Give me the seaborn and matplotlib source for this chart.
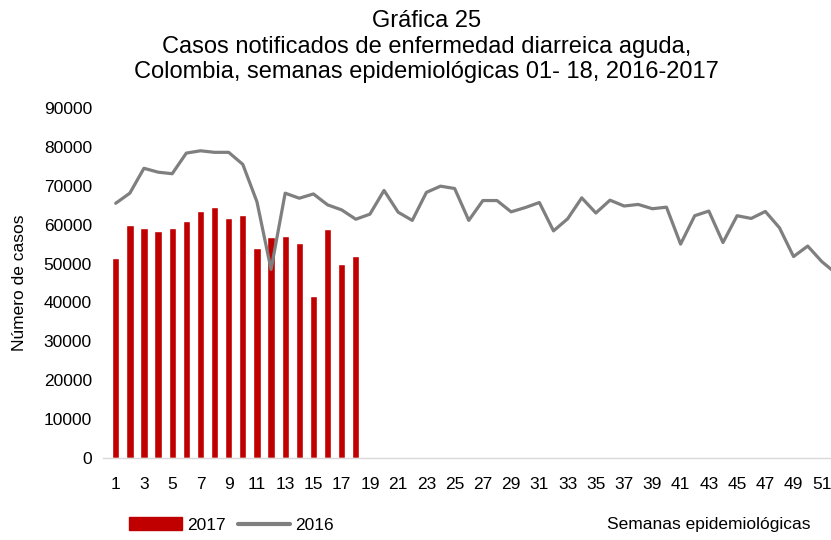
import numpy as np
import pandas as pd
import matplotlib
matplotlib.use("Agg")
import matplotlib.pyplot as plt
import seaborn as sns
from matplotlib.patches import Patch
from matplotlib.lines import Line2D

# Semanas epidemiológicas 1-52
semanas = list(range(1, 53))

# Casos 2017 (semanas 01-18)
casos_2017 = [51400, 59800, 59200, 58400, 59200, 60900, 63500, 64500, 61800, 62400,
              54100, 56700, 57000, 55400, 41600, 58800, 50000, 51900]

# Casos 2016 (semanas 01-52)
casos_2016 = [65500, 68100, 74500, 73500, 73100, 78400, 79000, 78600, 78600, 75500,
              65900, 48500, 68100, 66800, 67900, 65100, 63800, 61400, 62700, 68800,
              63200, 61100, 68300, 69900, 69300, 61100, 66200, 66200, 63300, 64400,
              65700, 58400, 61500, 66900, 63000, 66300, 64800, 65200, 64100, 64500,
              55000, 62300, 63500, 55400, 62300, 61600, 63400, 59200, 51800, 54500,
              50500, 47500]

df = pd.DataFrame({
    "semana": [str(s) for s in semanas],
    "c2017": casos_2017 + [np.nan] * (len(semanas) - len(casos_2017)),
    "c2016": casos_2016,
})

sns.set_theme(style="white")
plt.rcParams["font.family"] = ["Liberation Sans", "DejaVu Sans"]
plt.rcParams["text.color"] = "black"
plt.rcParams["axes.labelcolor"] = "black"
plt.rcParams["xtick.color"] = "black"
plt.rcParams["ytick.color"] = "black"

fig = plt.figure(figsize=(8.31, 5.40), dpi=100)
ax = fig.add_axes([103 / 831, 82 / 540, 740 / 831, 350 / 540])

rojo = "#C00000"
gris = "#7F7F7F"

sns.barplot(data=df, x="semana", y="c2017", order=df["semana"].tolist(),
            color=rojo, saturation=1, width=0.52, ax=ax)
sns.lineplot(x=np.arange(len(semanas)), y=df["c2016"], color=gris,
             linewidth=2.3, ax=ax)

ax.set_xlim(-0.9, 51.5)
ax.set_ylim(0, 90000)
ax.set_yticks(np.arange(0, 90001, 10000))
ax.set_yticklabels([str(v) for v in range(0, 90001, 10000)], fontsize=12.5)
pos = np.arange(0, 52, 2)
ax.set_xticks(pos)
ax.set_xticklabels([str(semanas[p]) for p in pos], fontsize=12.5)
ax.tick_params(axis="y", length=0, pad=8)
ax.tick_params(axis="x", length=0, pad=14)

for s in ["top", "right", "left"]:
    ax.spines[s].set_visible(False)
ax.spines["bottom"].set_color("#D9D9D9")
ax.spines["bottom"].set_linewidth(1)

ax.set_xlabel("")
ax.set_ylabel("Número de casos", fontsize=12.5)
ax.yaxis.set_label_coords(-0.103, 0.5)

fig.text(0.513, 0.981, "Gráfica 25\nCasos notificados de enfermedad diarreica aguda,\n"
         "Colombia, semanas epidemiológicas 01- 18, 2016-2017",
         ha="center", va="top", fontsize=17, linespacing=1.21)

fig.text(0.975, 1 - 524 / 540, "Semanas epidemiológicas", ha="right", va="center",
         fontsize=12.5)

handles = [Patch(facecolor=rojo, edgecolor=rojo), Line2D([], [], color=gris, linewidth=3)]
leg = fig.legend(handles, ["2017", "2016"], loc="center left",
                 bbox_to_anchor=(0.137, 1 - 525 / 540),
                 ncol=2, frameon=False, handlelength=3.05, handleheight=0.75,
                 handletextpad=0.25, columnspacing=0.7, prop={"size": 12.5})

fig.savefig("out.png", dpi=100)
